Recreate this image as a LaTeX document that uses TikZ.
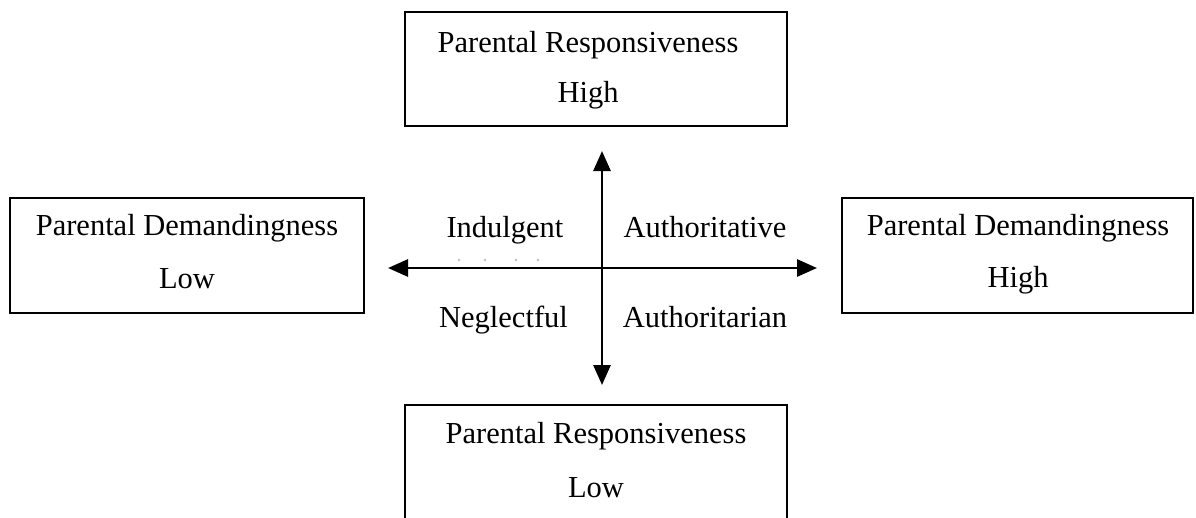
\documentclass[tikz,border=0pt]{standalone}
\usepackage{fontspec}
\setmainfont{Liberation Serif}
\usetikzlibrary{arrows.meta}
\begin{document}
\begin{tikzpicture}[x=1pt,y=-1pt,
  box/.style={draw, line width=2.2pt, inner sep=0pt},
  lbl/.style={anchor=base, inner sep=0pt, font=\fontsize{30.5}{36}\selectfont},
  axis/.style={line width=2.8pt, {Triangle[width=17pt,length=20pt]}-{Triangle[width=17pt,length=20pt]}},
  speck/.style={fill=black!25, draw=none}]
\useasboundingbox (0,0) rectangle (1196,517);
% boxes
\node[box, minimum width=382pt, minimum height=114pt] (topbox) at (596,69) {};
\node[box, minimum width=354pt, minimum height=115pt] (leftbox) at (187,255.5) {};
\node[box, minimum width=351pt, minimum height=115pt] (rightbox) at (1017.5,255.5) {};
\node[box, minimum width=382pt, minimum height=114pt] (botbox) at (596,462) {};
% box texts
\node[lbl] (t1) at (588,52) {Parental Responsiveness};
\node[lbl] (t2) at (588,102) {High};
\node[lbl] (l1) at (187,235) {Parental Demandingness};
\node[lbl] (l2) at (187,288) {Low};
\node[lbl] (r1) at (1018,235) {Parental Demandingness};
\node[lbl] (r2) at (1018,287) {High};
\node[lbl] (b1) at (596,443) {Parental Responsiveness};
\node[lbl] (b2) at (596,497) {Low};
% quadrant labels
\node[lbl] (ind) at (505,237) {Indulgent};
\node[lbl] (aut) at (705,237) {Authoritative};
\node[lbl] (neg) at (503.5,327) {Neglectful};
\node[lbl] (autn) at (705,327) {Authoritarian};
% axes
\coordinate (vtop) at (602,151);
\coordinate (vbot) at (602,385);
\coordinate (hleft) at (388,268);
\coordinate (hright) at (817,268);
\draw[axis] (vbot) -- (vtop);
\draw[axis] (hleft) -- (hright);
% faint specks
\foreach \x in {459,485,516,538} \fill[speck] (\x,260) circle (1.3pt);
\end{tikzpicture}
\end{document}
